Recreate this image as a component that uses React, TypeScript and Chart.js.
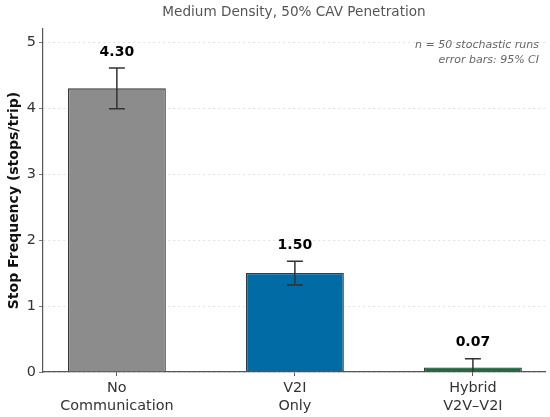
import { useEffect, useRef } from 'react'
import { Chart, registerables } from 'chart.js'

Chart.register(...registerables)

// Dữ liệu
const categories = [['No', 'Communication'], ['V2I', 'Only'], ['Hybrid', 'V2V–V2I']]
const stopFreq = [4.3, 1.5, 0.07]
const ci95 = [0.31, 0.18, 0.13]
const barColors = ['#8c8c8c', '#006ba4', '#13713a']
const yTicks = [0, 1, 2, 3, 4, 5]
const yMax = 5.2
const titleText = 'Medium Density, 50% CAV Penetration'
const yLabel = 'Stop Frequency (stops/trip)'
const noteLines = ['n = 50 stochastic runs', 'error bars: 95% CI']

const FONT = "'DejaVu Sans', sans-serif"

const overlay = {
  id: 'overlay',
  afterDatasetsDraw(chart: any) {
    const { ctx, chartArea } = chart
    const xs = chart.scales.x
    const ys = chart.scales.y

    // error bars, cắt theo vùng trục
    ctx.save()
    ctx.beginPath()
    ctx.rect(chartArea.left, chartArea.top, chartArea.right - chartArea.left, chartArea.bottom - chartArea.top)
    ctx.clip()
    ctx.strokeStyle = '#333333'
    ctx.lineWidth = 1.5
    stopFreq.forEach((v, i) => {
      const x = xs.getPixelForValue(i)
      const yt = ys.getPixelForValue(v + ci95[i])
      const yb = ys.getPixelForValue(v - ci95[i])
      ctx.beginPath()
      ctx.moveTo(x, yt)
      ctx.lineTo(x, yb)
      ctx.moveTo(x - 8, yt)
      ctx.lineTo(x + 8, yt)
      ctx.moveTo(x - 8, yb)
      ctx.lineTo(x + 8, yb)
      ctx.stroke()
    })
    ctx.restore()

    ctx.save()
    // nhãn giá trị
    ctx.fillStyle = '#000000'
    ctx.font = `bold 14px ${FONT}`
    ctx.textAlign = 'center'
    ctx.textBaseline = 'middle'
    stopFreq.forEach((v, i) => {
      const x = xs.getPixelForValue(i)
      const yt = ys.getPixelForValue(v + ci95[i])
      ctx.fillText(v.toFixed(2), x, yt - 16)
    })

    // tiêu đề
    ctx.fillStyle = '#555555'
    ctx.font = `13.6px ${FONT}`
    ctx.fillText(titleText, (chartArea.left + chartArea.right) / 2, 12)

    // ghi chú góc phải
    ctx.font = `italic 11px ${FONT}`
    ctx.fillStyle = '#666666'
    ctx.textAlign = 'right'
    noteLines.forEach((t, k) => {
      ctx.fillText(t, chartArea.right - 6, chartArea.top + 16 + k * 15)
    })

    // nhãn trục y
    ctx.translate(14, (chartArea.top + chartArea.bottom) / 2)
    ctx.rotate(-Math.PI / 2)
    ctx.textAlign = 'center'
    ctx.fillStyle = '#111111'
    ctx.font = `bold 14px ${FONT}`
    ctx.fillText(yLabel, 0, 0)
    ctx.restore()
  },
}

export default function App() {
  const canvasRef = useRef<HTMLCanvasElement>(null)
  const chartRef = useRef<Chart | null>(null)

  useEffect(() => {
    document.body.style.margin = '0'
    if (!canvasRef.current) return
    const ctx = canvasRef.current.getContext('2d')
    if (!ctx) return

    chartRef.current?.destroy()

    chartRef.current = new Chart(ctx, {
      type: 'bar',
      data: {
        datasets: [
          {
            data: stopFreq.map((v, i) => ({ x: i, y: v })),
            backgroundColor: barColors,
            borderColor: '#3a3a3a',
            borderWidth: 1.3,
            barPercentage: 0.55,
            categoryPercentage: 1,
          } as any,
        ],
      },
      options: {
        responsive: false,
        animation: false,
        layout: { padding: { left: 0, right: 5, top: 29, bottom: 0 } },
        plugins: {
          legend: { display: false },
          tooltip: { enabled: false },
        },
        scales: {
          x: {
            type: 'linear',
            min: -0.415,
            max: 2.405,
            offset: false,
            afterBuildTicks: (s: any) => {
              s.ticks = categories.map((_, i) => ({ value: i }))
            },
            afterFit: (s: any) => {
              s.height = 45
            },
            ticks: {
              callback: (v: any) => categories[v as number],
              color: '#333333',
              font: { family: FONT, size: 14.4 },
              padding: 4,
              maxRotation: 0,
              autoSkip: false,
            },
            grid: {
              offset: false,
              drawOnChartArea: false,
              drawTicks: true,
              tickLength: 4,
              tickColor: '#555555',
            },
            border: { display: true, color: '#555555', width: 1.2 },
          },
          y: {
            min: 0,
            max: yMax,
            afterBuildTicks: (s: any) => {
              s.ticks = yTicks.map(v => ({ value: v }))
            },
            afterFit: (s: any) => {
              s.width = 43
            },
            ticks: {
              color: '#333333',
              font: { family: FONT, size: 14.4 },
              padding: 3,
            },
            grid: {
              color: '#d9d9d9',
              lineWidth: 0.8,
              drawTicks: true,
              tickLength: 4,
              tickColor: '#555555',
            },
            border: { display: true, color: '#555555', width: 1.2, dash: [2, 3] },
          },
        },
      },
      plugins: [overlay],
    } as any)

    return () => {
      chartRef.current?.destroy()
      chartRef.current = null
    }
  }, [])

  return (
    <div style={{ width: 550, height: 417, background: '#ffffff' }}>
      <canvas
        ref={canvasRef}
        width={550}
        height={417}
        role="img"
        aria-label="Stop frequency by communication mode"
      />
    </div>
  )
}
